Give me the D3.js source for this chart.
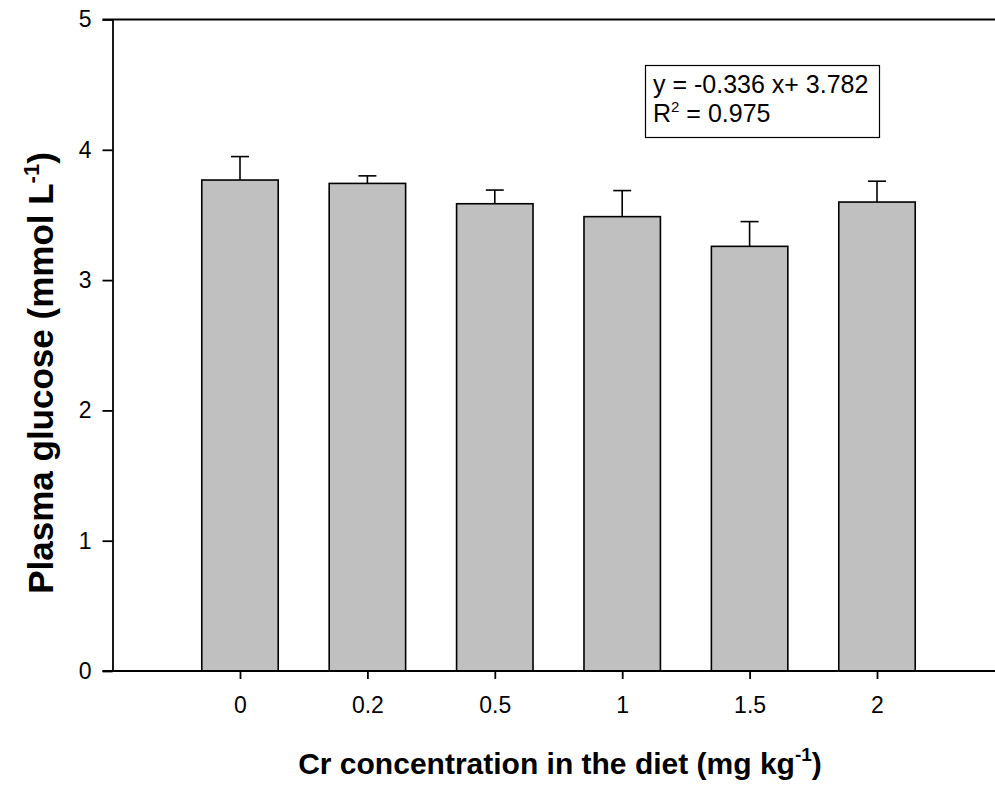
<!DOCTYPE html>
<html><head><meta charset="utf-8">
<script src="https://cdn.jsdelivr.net/npm/d3@7/dist/d3.min.js"></script>
<style>body{margin:0;background:#fff}svg{display:block;font-family:"Liberation Sans",Arial,sans-serif}</style>
</head><body>
<svg id="c" width="995" height="785"></svg>
<script>
const categories = ["0","0.2","0.5","1","1.5","2"];
const means = [3.768, 3.742, 3.586, 3.487, 3.259, 3.599];
const errors = [0.18, 0.058, 0.105, 0.20, 0.19, 0.16];
const yTicks = [0,1,2,3,4,5];
const eqLines = ["y = -0.336 x+ 3.782", "R|2| = 0.975"];

const svg = d3.select("#c");
const mLeft = 112.5, mRight = 1010, mTop = 19.5, mBottom = 671;
const y = d3.scaleLinear().domain([0,5]).range([mBottom, mTop]);
const x = d3.scalePoint().domain(categories).range([240, 877]);
const bw = x.step()*0.6;

// bars
svg.append("g").selectAll("rect").data(categories).join("rect")
  .attr("x", d=>x(d)-bw/2).attr("width", bw)
  .attr("y", (d,i)=>y(means[i])).attr("height",(d,i)=>y(0)-y(means[i]))
  .attr("fill","#c0c0c0").attr("stroke","#000").attr("stroke-width",1.6);

// error bars
const eg = svg.append("g").attr("stroke","#000").attr("stroke-width",1.6);
categories.forEach((c,i)=>{
  eg.append("line").attr("x1",x(c)).attr("x2",x(c)).attr("y1",y(means[i])).attr("y2",y(means[i]+errors[i]));
  eg.append("line").attr("x1",x(c)-9).attr("x2",x(c)+9).attr("y1",y(means[i]+errors[i])).attr("y2",y(means[i]+errors[i]));
});

// axes
const ya = svg.append("g").attr("transform",`translate(${mLeft},0)`)
  .call(d3.axisLeft(y).tickValues(yTicks).tickFormat(d3.format("d")).tickSize(10).tickPadding(11).tickSizeOuter(0));
ya.select(".domain").attr("stroke-width",1.8);
ya.selectAll(".tick line").attr("stroke-width",1.8);
ya.selectAll("text").attr("font-size",23).attr("font-family","Liberation Sans, Arial, sans-serif");

const xa = svg.append("g").attr("transform",`translate(0,${mBottom})`)
  .call(d3.axisBottom(x).tickSize(8).tickPadding(18).tickSizeOuter(0));
xa.select(".domain").attr("d",`M${mLeft-10},0H${mRight}`).attr("stroke-width",1.8);
xa.selectAll(".tick line").attr("stroke-width",1.8);
xa.selectAll("text").attr("font-size",23).attr("font-family","Liberation Sans, Arial, sans-serif");

// top line
svg.append("line").attr("x1",mLeft-10).attr("x2",mRight).attr("y1",y(5)).attr("y2",y(5))
  .attr("stroke","#000").attr("stroke-width",1.8);

// equation box
svg.append("rect").attr("x",645.5).attr("y",65.5).attr("width",234).attr("height",72)
  .attr("fill","#fff").attr("stroke","#000").attr("stroke-width",1.2);
svg.append("text").attr("x",653).attr("y",93).attr("font-size",25).text(eqLines[0]);
const t2 = svg.append("text").attr("x",653).attr("y",122).attr("font-size",25);
const parts = eqLines[1].split("|");
t2.append("tspan").text(parts[0]);
t2.append("tspan").attr("dy",-10).attr("font-size",15).text(parts[1]);
t2.append("tspan").attr("dy",10).text(parts[2]);

// x title
const xt = svg.append("text").attr("x",560).attr("y",774).attr("text-anchor","middle")
  .attr("font-size",30).attr("font-weight","bold");
xt.append("tspan").text("Cr concentration in the diet (mg kg");
xt.append("tspan").attr("dy",-13).attr("font-size",19).text("-1");
xt.append("tspan").attr("dy",13).text(")");

// y title
const yt = svg.append("text").attr("transform","translate(53,373) rotate(-90)").attr("text-anchor","middle")
  .attr("font-size",35).attr("font-weight","bold");
yt.append("tspan").text("Plasma glucose (mmol L");
yt.append("tspan").attr("dy",-14).attr("font-size",22).text("-1");
yt.append("tspan").attr("dy",14).text(")");
</script>
</body></html>
